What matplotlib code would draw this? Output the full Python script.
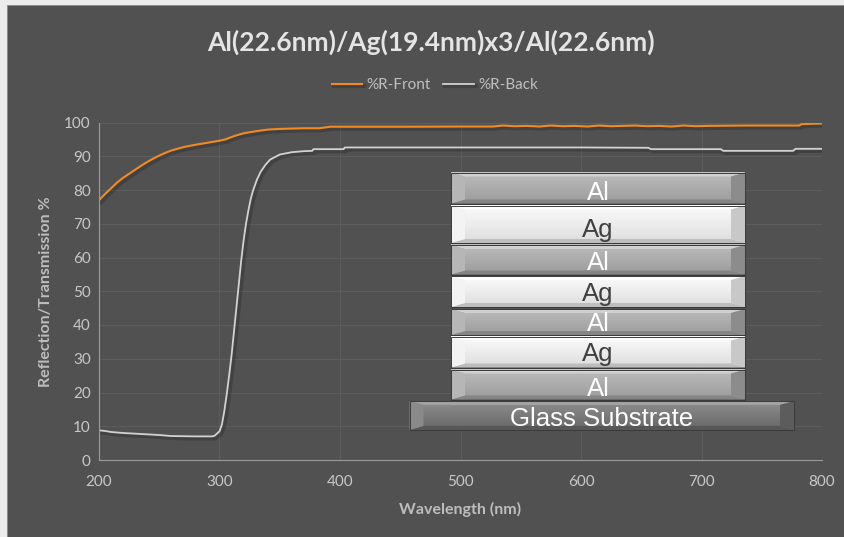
import numpy as np
import matplotlib
matplotlib.use("Agg")
import matplotlib.pyplot as plt
import matplotlib.patheffects as pe
from matplotlib.patches import Polygon, Rectangle

# ------------------------------------------------------------------
# Data
# ------------------------------------------------------------------
wl_front = [200, 205, 210, 215, 220, 225, 230, 235, 240, 245, 250, 255, 260,
            270, 280, 290, 300, 305, 310, 315, 320, 330, 340, 350, 360, 370,
            383, 392, 420, 460, 500, 527, 535, 545, 555, 565, 575, 585, 595,
            605, 615, 625, 635, 645, 655, 665, 675, 685, 695, 705, 720, 740,
            760, 781, 783, 790, 800]
r_front = [77.0, 78.8, 80.5, 82.2, 83.6, 84.8, 86.0, 87.2, 88.3, 89.3, 90.2,
           91.0, 91.7, 92.7, 93.4, 94.0, 94.6, 95.0, 95.7, 96.3, 96.8, 97.4,
           97.9, 98.1, 98.2, 98.3, 98.3, 98.75, 98.75, 98.75, 98.8, 98.8, 99.1,
           98.9, 99.0, 98.8, 99.1, 98.9, 99.0, 98.8, 99.1, 98.9, 99.0, 99.1,
           98.9, 99.0, 98.8, 99.1, 98.9, 99.0, 99.05, 99.1, 99.1, 99.1, 99.5,
           99.6, 99.7]

wl_back = [200, 205, 210, 220, 230, 240, 250, 260, 280, 294, 296, 300, 302,
           304, 306, 308, 310, 312, 314, 316, 318, 320, 322, 324, 326, 328,
           331, 334, 338, 342, 350, 360, 370, 377, 378, 403, 404, 500, 600,
           656, 658, 716, 718, 776, 778, 800]
r_back = [8.8, 8.6, 8.3, 8.0, 7.8, 7.6, 7.4, 7.1, 7.0, 7.0, 7.2, 8.5, 10.5,
          14.5, 19.5, 25.0, 31.0, 38.0, 45.0, 52.0, 59.0, 65.0, 70.0, 74.0,
          77.5, 80.0, 83.0, 85.3, 87.4, 89.0, 90.5, 91.2, 91.5, 91.6, 92.1,
          92.1, 92.6, 92.6, 92.6, 92.5, 92.1, 92.1, 91.6, 91.6, 92.2, 92.2]

title = "Al(22.6nm)/Ag(19.4nm)x3/Al(22.6nm)"
series_names = ["%R-Front", "%R-Back"]
x_ticks = [200, 300, 400, 500, 600, 700, 800]
y_ticks = list(range(0, 101, 10))
layers = ["Al", "Ag", "Al", "Ag", "Al", "Ag", "Al"]
substrate = "Glass Substrate"

BG = "#515151"
ORANGE = "#f28a22"
GREY = "#d2d2d2"
TXT = "#c8c8c8"

W, H = 844, 537
fig = plt.figure(figsize=(W / 100, H / 100), dpi=100, facecolor="#ececec")

# dark panel (white strip left/top like the screenshot)
bgax = fig.add_axes([0, 0, 1, 1])
bgax.set_xlim(0, W)
bgax.set_ylim(H, 0)
bgax.axis("off")
bgax.add_patch(Rectangle((7, 5), W - 7, H - 5, facecolor=BG,
                         edgecolor="#8a8a8a", lw=0.6))

# ------------------------------------------------------------------
# Main chart
# ------------------------------------------------------------------
ax = fig.add_axes([99 / W, 1 - 460 / H, (822 - 99) / W, (460 - 122.5) / H])
ax.set_facecolor("none")
shadow = [pe.SimpleLineShadow(offset=(1.5, -1.5), shadow_color="black",
                              alpha=0.18, linewidth=3), pe.Normal()]
l1, = ax.plot(wl_front, r_front, color=ORANGE, lw=1.5, label=series_names[0],
              path_effects=shadow, solid_joinstyle="round")
l2, = ax.plot(wl_back, r_back, color=GREY, lw=1.3, label=series_names[1],
              path_effects=shadow, solid_joinstyle="round")

ax.set_xlim(200, 800)
ax.set_ylim(0, 100)
ax.set_xticks(x_ticks)
ax.set_yticks(y_ticks)
ax.grid(True, color="#5c5c5c", lw=0.8)
ax.set_axisbelow(True)
for s in ["top", "right"]:
    ax.spines[s].set_visible(False)
for s in ["left", "bottom"]:
    ax.spines[s].set_color("#9a9a9a")
    ax.spines[s].set_linewidth(0.8)
ax.tick_params(length=0, colors=TXT, labelsize=11)
ax.tick_params(axis="y", pad=6)
ax.tick_params(axis="x", pad=11)
for lab in ax.get_xticklabels() + ax.get_yticklabels():
    lab.set_family("Lato")

ax.set_xlabel("Wavelength (nm)", family="Lato", fontweight="bold",
              fontsize=11.5, color="#bdbdbd", labelpad=9)
ax.set_ylabel("Reflection/Transmission %", family="Lato", fontweight="bold",
              fontsize=11.5, color="#bdbdbd", labelpad=8)

fig.text(431 / W, 1 - 42 / H, title, ha="center", va="center",
         family="Lato", fontweight="bold", fontsize=19, color="#e4e4e4")
fig.legend(handles=[l1, l2], loc="center", bbox_to_anchor=(435 / W, 1 - 85 / H),
           ncol=2, frameon=False, prop={"family": "Lato", "size": 11},
           labelcolor="#c0c0c0", handlelength=2.0, handletextpad=0.3,
           columnspacing=0.8)

# ------------------------------------------------------------------
# Layer stack inset (pixel coordinates on overlay axes)
# ------------------------------------------------------------------
ov = fig.add_axes([0, 0, 1, 1])
ov.set_xlim(0, W)
ov.set_ylim(H, 0)
ov.axis("off")

styles = {
    "Al": ("#bcbcbc", "#9c9c9c", "white", 4),
    "Ag": ("#fbfbfb", "#dedede", "#404040", 6.5),
    "Glass": ("#8e8e8e", "#666666", "white", 3.5),
}
layer_y = [(172.5, 203.5), (205.5, 243), (245, 274.5), (276, 307),
           (309, 335), (336.5, 367.5), (369.5, 399.5)]


def bevel_bar(x0, x1, y0, y1, kind, label):
    top, bot, tcol, base = styles[kind]
    c0 = np.array(matplotlib.colors.to_rgb(top))
    c1 = np.array(matplotlib.colors.to_rgb(bot))
    t = np.linspace(0, 1, 40)[:, None]
    grad = (c0 * (1 - t) + c1 * t)[:, None, :]
    ov.imshow(grad, extent=[x0, x1, y1, y0], aspect="auto", zorder=2,
              interpolation="bilinear")
    b, h = 14, 4
    light = tuple(np.minimum(c0 + 0.08, 1))
    dark = tuple(c1 * 0.85)
    ov.add_patch(Polygon([(x0, y0), (x1, y0), (x1 - b, y0 + h), (x0 + b, y0 + h)],
                         closed=True, facecolor=light, edgecolor="none", zorder=3))
    ov.add_patch(Polygon([(x0, y1), (x1, y1), (x1 - b, y1 - h), (x0 + b, y1 - h)],
                         closed=True, facecolor=dark, edgecolor="none", zorder=3))
    ov.add_patch(Polygon([(x0, y0), (x0 + b, y0 + h), (x0 + b, y1 - h), (x0, y1)],
                         closed=True, facecolor=tuple(c0 * 0.97), edgecolor="none",
                         zorder=3))
    ov.add_patch(Polygon([(x1, y0), (x1 - b, y0 + h), (x1 - b, y1 - h), (x1, y1)],
                         closed=True, facecolor=tuple(c1 * 0.9), edgecolor="none",
                         zorder=3))
    ov.add_patch(Rectangle((x0, y0), x1 - x0, y1 - y0, facecolor="none",
                           edgecolor="#3a3a3a", lw=0.7, zorder=4))
    ov.text((x0 + x1) / 2, y1 - base, label, ha="center", va="baseline",
            family="Liberation Sans", fontsize=18.5, color=tcol, zorder=5)


for name, (y0, y1) in zip(layers, layer_y):
    bevel_bar(451, 745, y0, y1, name, name)
bevel_bar(409.5, 794, 401, 430, "Glass", substrate)

fig.savefig("out.png", dpi=100, facecolor=fig.get_facecolor())
